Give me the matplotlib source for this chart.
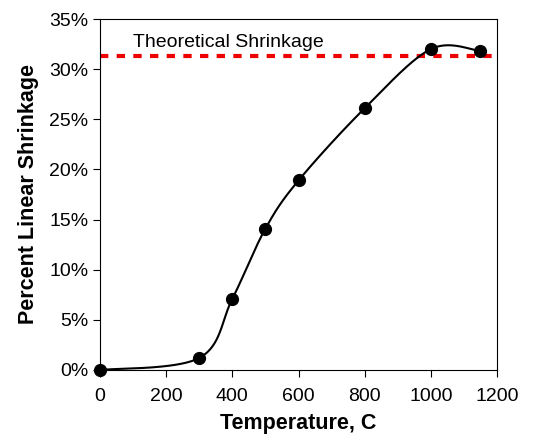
import matplotlib
matplotlib.use('Agg')
import matplotlib.pyplot as plt
import numpy as np
from matplotlib.ticker import PercentFormatter

plt.rcParams['font.family'] = ['Liberation Sans', 'DejaVu Sans']

temperature = [0, 300, 400, 500, 600, 800, 1000, 1150]
shrinkage = [0.0, 1.2, 7.1, 14.1, 18.9, 26.1, 32.0, 31.8]
theoretical = 31.3


def smooth(xs, ys, n=40):
    # Catmull-Rom through the points, in axis-normalised space
    p = np.column_stack([np.array(xs) / 1200.0, np.array(ys) / 35.0])
    p = np.vstack([p[0], p, p[-1]])
    out = []
    for i in range(1, len(p) - 2):
        p0, p1, p2, p3 = p[i - 1], p[i], p[i + 1], p[i + 2]
        t = np.linspace(0, 1, n)[:, None]
        c = 0.5 * ((2 * p1) + (-p0 + p2) * t
                   + (2 * p0 - 5 * p1 + 4 * p2 - p3) * t ** 2
                   + (-p0 + 3 * p1 - 3 * p2 + p3) * t ** 3)
        out.append(c)
    c = np.vstack(out)
    return c[:, 0] * 1200.0, c[:, 1] * 35.0


fig = plt.figure(figsize=(5.46, 4.37), dpi=100)
ax = fig.add_axes([100 / 546, 1 - 370 / 437, 397 / 546, 351 / 437])

sx, sy = smooth(temperature, shrinkage)
ax.plot(sx, sy, color='black', lw=1.5, zorder=3)
ax.plot(temperature, shrinkage, 'o', color='black', ms=8.5, zorder=4, clip_on=False)
ax.axhline(theoretical, color='#ee0000', lw=3, ls=(0, (2, 2)), zorder=2)
ax.text(100, 32.7, 'Theoretical Shrinkage', fontsize=14, va='center')

ax.set_xlim(0, 1200)
ax.set_ylim(0, 35)
ax.set_xticks(range(0, 1201, 200))
ax.set_yticks(range(0, 36, 5))
ax.yaxis.set_major_formatter(PercentFormatter(decimals=0))
ax.tick_params(direction='out', labelsize=14, length=5)
ax.tick_params(axis='x', pad=8)
ax.set_xlabel('Temperature, C', fontsize=15.5, fontweight='bold', labelpad=6)
ax.set_ylabel('Percent Linear Shrinkage', fontsize=15.5, fontweight='bold', labelpad=7)

fig.savefig('out.png', dpi=100)
